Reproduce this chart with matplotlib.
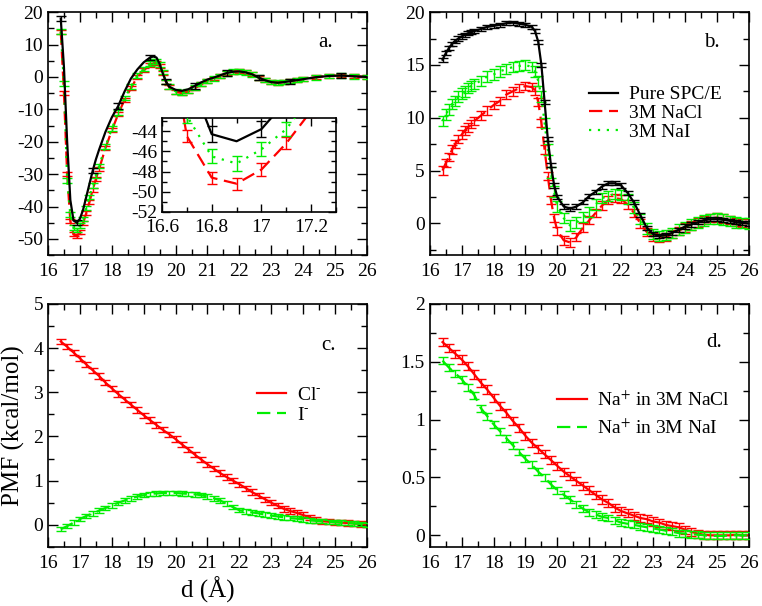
import matplotlib
matplotlib.use("Agg")
import matplotlib.pyplot as plt
from matplotlib.ticker import MultipleLocator, FuncFormatter

plt.rcParams['font.family'] = ['Liberation Serif', 'DejaVu Serif']
plt.rcParams['mathtext.fontset'] = 'stix'
plt.rcParams['axes.unicode_minus'] = False

# ---------------- data ----------------
x_a = [16.4, 16.5, 16.6, 16.7, 16.8, 16.9, 17.0, 17.1, 17.2, 17.3, 17.4, 17.5, 17.6,
       17.8, 18.0, 18.2, 18.4, 18.6, 18.8, 19.0, 19.2, 19.3, 19.4, 19.5, 19.6, 19.7, 19.8,
       20.0, 20.2, 20.4, 20.6, 20.8, 21.0, 21.2, 21.4, 21.6, 21.8, 22.0, 22.2, 22.4, 22.6,
       22.8, 23.0, 23.2, 23.4, 23.6, 23.8, 24.0, 24.4, 24.8, 25.2, 25.6, 26.0]
pure_a = [18, 3, -20, -38, -44.3, -45, -43.8, -41, -37, -33, -29, -25.5, -22.5,
          -17, -12.5, -9, -4.5, -0.5, 2.3, 4.5, 6.0, 6.3, 6.0, 4.0, 1.0, -1.5, -3.0,
          -4.0, -4.3, -3.8, -2.8, -1.7, -0.8, -0.2, 0.5, 1.2, 1.6, 1.7, 1.4, 0.8, -0.2,
          -1.0, -1.6, -1.8, -1.6, -1.3, -1.0, -0.7, -0.1, 0.3, 0.4, 0.2, 0.0]
nacl_a = [14, -5, -30, -44.5, -48.6, -49.2, -47.8, -45.2, -42, -38.5, -35, -31.5, -28.5,
          -22, -16.5, -11.5, -7, -3.5, 0, 2.0, 3.8, 4.3, 4.3, 3.3, 1.2, -1.5, -3.2,
          -4.6, -5.0, -4.5, -3.5, -2.3, -1.2, -0.5, 0.3, 1.1, 1.6, 1.7, 1.4, 0.8, -0.2,
          -1.0, -1.6, -1.8, -1.6, -1.3, -1.0, -0.7, -0.1, 0.35, 0.45, 0.2, 0.0]
nai_a = [14, -2, -32, -42.5, -46.5, -47.2, -45.8, -43.8, -40.5, -37, -33.5, -30.5, -27.5,
         -21.5, -16, -11, -6.5, -3, 0.5, 2.5, 4.2, 4.8, 4.7, 3.8, 1.5, -1.5, -3.0,
         -4.5, -4.8, -4.3, -3.3, -2.2, -1.2, -0.5, 0.3, 1.1, 1.6, 1.7, 1.4, 0.8, -0.2,
         -1.0, -1.6, -1.8, -1.6, -1.3, -1.0, -0.7, -0.1, 0.3, 0.45, 0.2, 0.0]
err_a_pure, err_a_nacl, err_a_nai = 0.8, 0.6, 0.7

x_b = [16.4, 16.5, 16.6, 16.7, 16.8, 16.9, 17.0, 17.1, 17.2, 17.3, 17.4, 17.6, 17.8, 18.0,
       18.2, 18.4, 18.6, 18.8, 19.0, 19.2, 19.3, 19.4, 19.5, 19.6, 19.7, 19.8, 19.9, 20.0,
       20.2, 20.4, 20.6, 20.8, 21.0, 21.2, 21.4, 21.6, 21.8, 22.0, 22.2, 22.4, 22.6, 22.8,
       23.0, 23.2, 23.4, 23.6, 23.8, 24.0, 24.2, 24.4, 24.6, 24.8, 25.0, 25.2, 25.4, 25.6,
       25.8, 26.0]
pure_b = [15.5, 16.1, 16.6, 17.0, 17.3, 17.5, 17.7, 17.85, 18.0, 18.1, 18.2, 18.4, 18.6, 18.7,
          18.8, 18.95, 19.0, 18.9, 18.8, 18.6, 18.2, 17.2, 15.0, 11.5, 8.0, 5.5, 3.6, 2.5,
          1.6, 1.4, 1.6, 2.0, 2.6, 3.0, 3.5, 3.8, 3.8, 3.6, 2.9, 2.0, 0.8, -0.4,
          -1.0, -1.2, -1.1, -0.9, -0.6, -0.3, -0.1, 0.1, 0.3, 0.4, 0.4, 0.35, 0.25, 0.1,
          0.05, 0.0]
nacl_b = [5.0, 5.7, 6.3, 7.0, 7.5, 8.0, 8.4, 8.8, 9.1, 9.4, 9.7, 10.2, 10.7, 11.2,
          11.6, 12.2, 12.5, 12.8, 13.0, 12.9, 12.6, 11.5, 9.5, 7.0, 4.5, 2.2, 0.5, -0.7,
          -1.6, -1.8, -1.3, -0.4, 0.3, 1.0, 1.7, 2.2, 2.4, 2.3, 1.8, 1.0, 0.0, -0.8,
          -1.3, -1.4, -1.3, -1.0, -0.7, -0.4, -0.2, 0.1, 0.3, 0.5, 0.55, 0.45, 0.3, 0.15,
          0.05, 0.0]
nai_b = [9.7, 10.3, 10.8, 11.3, 11.6, 12.0, 12.3, 12.5, 12.8, 13.0, 13.2, 13.5, 13.9, 14.1,
         14.4, 14.6, 14.8, 14.9, 15.0, 14.8, 14.4, 13.5, 12.0, 9.5, 7.0, 4.8, 3.0, 1.6,
         0.5, -0.2, 0.1, 0.6, 1.1, 1.8, 2.4, 2.6, 2.8, 2.7, 2.3, 1.5, 0.4, -0.5,
         -1.0, -1.2, -1.1, -0.9, -0.6, -0.4, -0.1, 0.1, 0.3, 0.4, 0.45, 0.35, 0.25, 0.1,
         0.05, 0.0]
err_b_pure, err_b_nacl, err_b_nai = 0.2, 0.4, 0.5

x_cd = [16.4, 16.6, 16.8, 17.0, 17.2, 17.4, 17.6, 17.8, 18.0, 18.2, 18.4, 18.6, 18.8, 19.0,
        19.2, 19.4, 19.6, 19.8, 20.0, 20.2, 20.4, 20.6, 20.8, 21.0, 21.2, 21.4, 21.6, 21.8,
        22.0, 22.2, 22.4, 22.6, 22.8, 23.0, 23.2, 23.4, 23.6, 23.8, 24.0, 24.2, 24.4, 24.6,
        24.8, 25.0, 25.2, 25.4, 25.6, 25.8, 26.0]
cl_c = [4.15, 4.03, 3.9, 3.77, 3.63, 3.5, 3.37, 3.22, 3.09, 2.96, 2.84, 2.72, 2.6, 2.48,
        2.37, 2.26, 2.15, 2.05, 1.94, 1.82, 1.71, 1.59, 1.48, 1.37, 1.27, 1.17, 1.08, 1.0,
        0.92, 0.83, 0.74, 0.66, 0.58, 0.5, 0.43, 0.36, 0.31, 0.27, 0.22, 0.17, 0.11, 0.08,
        0.07, 0.06, 0.05, 0.04, 0.03, 0.02, 0.0]
i_c = [-0.1, -0.03, 0.05, 0.13, 0.2, 0.26, 0.32, 0.38, 0.44, 0.5, 0.55, 0.6, 0.64, 0.67,
       0.7, 0.71, 0.72, 0.72, 0.72, 0.71, 0.7, 0.69, 0.67, 0.64, 0.6, 0.55, 0.48, 0.4,
       0.33, 0.3, 0.28, 0.26, 0.23, 0.21, 0.19, 0.17, 0.15, 0.14, 0.12, 0.1, 0.09, 0.08,
       0.07, 0.06, 0.05, 0.04, 0.03, 0.02, 0.0]
err_c_cl, err_c_i = 0.06, 0.05

na_nacl_d = [1.67, 1.62, 1.57, 1.52, 1.46, 1.39, 1.32, 1.26, 1.19, 1.12, 1.06, 0.99, 0.93, 0.86,
             0.8, 0.75, 0.7, 0.65, 0.6, 0.55, 0.51, 0.47, 0.43, 0.39, 0.35, 0.31, 0.28, 0.24,
             0.21, 0.19, 0.17, 0.15, 0.14, 0.12, 0.11, 0.09, 0.08, 0.07, 0.05, 0.03, 0.015, 0.005,
             0.0, 0.0, 0.0, 0.0, 0.005, 0.0, 0.0]
na_nai_d = [1.51, 1.45, 1.4, 1.35, 1.28, 1.21, 1.1, 1.03, 0.96, 0.9, 0.84, 0.78, 0.72, 0.66,
            0.61, 0.55, 0.5, 0.44, 0.39, 0.35, 0.31, 0.27, 0.23, 0.2, 0.18, 0.16, 0.15, 0.13,
            0.11, 0.1, 0.09, 0.08, 0.07, 0.06, 0.05, 0.04, 0.03, 0.02, 0.015, 0.01, 0.005, 0.0,
            -0.005, -0.005, -0.005, 0.0, 0.0, 0.0, 0.0]
err_d_nacl, err_d_nai = 0.035, 0.03

labels_b = ['Pure SPC/E', '3M NaCl', '3M NaI']
labels_c = [r'Cl$^{\text{-}}$', r'I$^{\text{-}}$']
labels_d = [r'Na$^{+}$ in 3M NaCl', r'Na$^{+}$ in 3M NaI']

# ---------------- style ----------------
RED = '#ff0000'
GREEN = '#00ee00'
BLACK = '#000000'
LW = 1.6
FS = 14
CAP = 3.5
dashed = (0, (6, 3))
dotted = (0, (1, 3))

fig = plt.figure(figsize=(7.62, 6.06), dpi=100)

def make_ax(rect):
    ax = fig.add_axes(rect)
    ax.set_xlim(16, 26)
    ax.xaxis.set_major_locator(MultipleLocator(1))
    ax.xaxis.set_minor_locator(MultipleLocator(0.5))
    ax.tick_params(which='both', direction='in', top=True, right=True, labelsize=FS, width=1.0)
    ax.tick_params(which='major', length=7)
    ax.tick_params(which='minor', length=4)
    ax.tick_params(axis='x', pad=6)
    for s in ax.spines.values():
        s.set_linewidth(1.2)
    ax.yaxis.set_major_formatter(FuncFormatter(lambda v, p: '%g' % v))
    return ax

def series(ax, x, y, err, color, ls, everyerr=1, z=2):
    ax.errorbar(x, y, yerr=err, fmt='none', ecolor=color, elinewidth=1.0, capsize=CAP,
                capthick=1.0, errorevery=everyerr, zorder=z)
    line, = ax.plot(x, y, color=color, linestyle=ls, linewidth=LW, zorder=z + 0.5)
    return line

W, H = 0.4186, 0.401
axa = make_ax([0.063, 0.579, W, H])
axb = make_ax([0.564, 0.579, W, H])
axc = make_ax([0.063, 0.0975, W, H])
axd = make_ax([0.564, 0.0975, W, H])

leg_kw = dict(loc='upper left', frameon=False, fontsize=FS, handlelength=1.5,
              handletextpad=0.55, borderpad=0, borderaxespad=0)

# ---- panel a ----
series(axa, x_a, nacl_a, err_a_nacl, RED, dashed, z=2)
series(axa, x_a, nai_a, err_a_nai, GREEN, dotted, z=3)
series(axa, x_a, pure_a, err_a_pure, BLACK, '-', everyerr=5, z=4)
axa.set_ylim(-55, 20)
axa.yaxis.set_major_locator(MultipleLocator(10))
axa.yaxis.set_minor_locator(MultipleLocator(5))
axa.text(0.87, 0.877, 'a.', transform=axa.transAxes, fontsize=FS + 1, ha='center', va='center')

ins = fig.add_axes([162 / 762, 1 - 212 / 606, 174 / 762, 94 / 606])
series(ins, x_a, nacl_a, err_a_nacl, RED, dashed, z=2)
series(ins, x_a, nai_a, err_a_nai, GREEN, dotted, z=3)
series(ins, x_a, pure_a, err_a_pure, BLACK, '-', everyerr=2, z=4)
ins.set_xlim(16.6, 17.3)
ins.set_ylim(-52, -42.7)
ins.xaxis.set_major_locator(MultipleLocator(0.2))
ins.xaxis.set_minor_locator(MultipleLocator(0.1))
ins.yaxis.set_major_locator(MultipleLocator(2))
ins.yaxis.set_minor_locator(MultipleLocator(1))
ins.xaxis.set_major_formatter(FuncFormatter(lambda v, p: '%g' % round(v, 2)))
ins.yaxis.set_major_formatter(FuncFormatter(lambda v, p: '%g' % v))
ins.tick_params(which='both', direction='in', top=True, right=True, labelsize=FS, width=1.0)
ins.tick_params(which='major', length=6)
ins.tick_params(which='minor', length=3.5)
ins.tick_params(axis='x', pad=5)
for s in ins.spines.values():
    s.set_linewidth(1.2)

# ---- panel b ----
lb_r = series(axb, x_b, nacl_b, err_b_nacl, RED, dashed, z=2)
lb_g = series(axb, x_b, nai_b, err_b_nai, GREEN, dotted, z=3)
lb_k = series(axb, x_b, pure_b, err_b_pure, BLACK, '-', z=4)
axb.set_ylim(-3, 20)
axb.yaxis.set_major_locator(MultipleLocator(5))
axb.yaxis.set_minor_locator(MultipleLocator(2.5))
axb.text(0.884, 0.877, 'b.', transform=axb.transAxes, fontsize=FS + 1, ha='center', va='center')
axb.legend([lb_k, lb_r, lb_g], labels_b, bbox_to_anchor=(0.50, 0.697),
           labelspacing=0.05, **leg_kw)

# ---- panel c ----
lc_r = series(axc, x_cd, cl_c, err_c_cl, RED, '-', z=2)
lc_g = series(axc, x_cd, i_c, err_c_i, GREEN, dashed, z=3)
axc.set_ylim(-0.5, 5)
axc.yaxis.set_major_locator(MultipleLocator(1))
axc.yaxis.set_minor_locator(MultipleLocator(0.5))
axc.text(0.878, 0.83, 'c.', transform=axc.transAxes, fontsize=FS + 1, ha='center', va='center')
axc.legend([lc_r, lc_g], labels_c, bbox_to_anchor=(0.655, 0.66),
           labelspacing=0.1, **leg_kw)
axc.set_ylabel('PMF (kcal/mol)', fontsize=18, labelpad=6)
axc.set_xlabel('d (Å)', fontsize=18, labelpad=3)

# ---- panel d ----
ld_r = series(axd, x_cd, na_nacl_d, err_d_nacl, RED, '-', z=2)
ld_g = series(axd, x_cd, na_nai_d, err_d_nai, GREEN, dashed, z=3)
axd.set_ylim(-0.1, 2)
axd.yaxis.set_major_locator(MultipleLocator(0.5))
axd.yaxis.set_minor_locator(MultipleLocator(0.25))
axd.text(0.893, 0.84, 'd.', transform=axd.transAxes, fontsize=FS + 1, ha='center', va='center')
axd.legend([ld_r, ld_g], labels_d, bbox_to_anchor=(0.40, 0.645),
           labelspacing=0.45, **leg_kw)

fig.savefig('out.png', dpi=100)
